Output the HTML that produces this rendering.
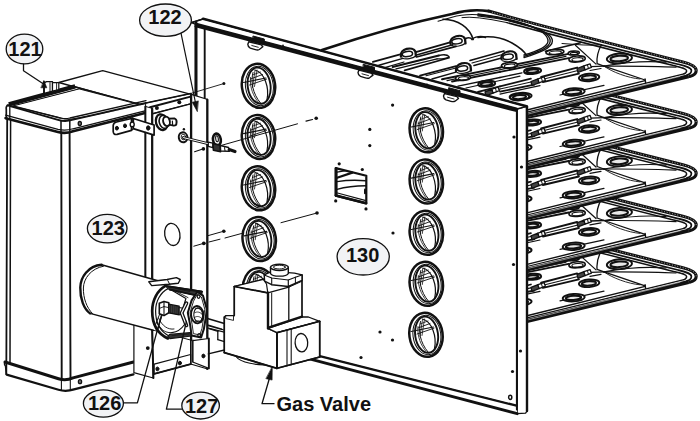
<!DOCTYPE html>
<html><head><meta charset="utf-8"><title>Parts diagram</title>
<style>
html,body{margin:0;padding:0;background:#fff;}
body{width:700px;height:421px;overflow:hidden;font-family:"Liberation Sans",sans-serif;}
svg{display:block;}
text{font-family:"Liberation Sans",sans-serif;font-weight:bold;fill:#111;}
</style></head><body>
<svg width="700" height="421" viewBox="0 0 700 421" stroke-linecap="round" stroke-linejoin="round">
<rect width="700" height="421" fill="#fff"/>
<g transform="translate(0 205.8)"><path d="M322 50Q390 27 452 13.9Q470 8.6 488.6 11.1Q551 28.8 682.9 61.9C690 63.7 696.2 66 696.2 70.4C696.2 74 693.5 75.5 689.7 76.4L527 116.8Z" fill="#fff" stroke="none"/><path d="M688.6 76.2L527.0 115.2" stroke="#111" stroke-width="4.0" fill="none" stroke-linecap="butt"/><path d="M684.0 73.9L527.0 112.1" stroke="#111" stroke-width="1.2" fill="none" /><path d="M645.1 80.6L527.0 110.0" stroke="#111" stroke-width="1.4" fill="none" /><path d="M680.0 76.4L527.0 114.3"  stroke-width="0.5" fill="none" stroke="#fff"/><path d="M488.6 11.1Q551 28.8 682.9 61.9C690 63.7 696.2 66 696.2 70.4C696.2 74 693.5 75.5 689.7 76.4" stroke="#111" stroke-width="3.1" fill="none"/><path d="M492 12.2Q551 28.8 682.9 61.9C690 63.7 696.2 66 696.2 70.4" stroke="#fff" stroke-width="0.8" fill="none" stroke-dasharray="0.8 1.9" stroke-linecap="butt"/><path d="M497 17.2Q551 32.4 678 64.2C686 66.2 691.4 67.5 691.4 70.6C691.4 73.2 689.5 74.4 687 75.0" stroke="#111" stroke-width="1.7" fill="none" /><path d="M507 22.6Q556 36.0 673.5 65.6C681 67.5 686.6 68.4 686.6 70.8C686.6 72.8 685.5 73.4 684 73.8" stroke="#111" stroke-width="1.5" fill="none" /><path d="M601.4 44.7C598 51 596.4 57.5 597.1 63.6L604 66.1" stroke="#111" stroke-width="1.3" fill="none" /><path d="M604.0 66.1L645.1 80.0" stroke="#111" stroke-width="1.3" fill="none" /><path d="M604 66.1C630 66 655 66 676 67.2" stroke="#111" stroke-width="1.2" fill="none" /><path d="M604 66.1C625 62.2 648 60.8 666 62.2" stroke="#111" stroke-width="1.2" fill="none" /><path d="M604 66.1C612 72 628 78 640 79.0" stroke="#111" stroke-width="0.9" fill="none" /><path d="M645.1 79.0L645.6 82.6" stroke="#111" stroke-width="1.4" fill="none" /><path d="M545.4 51.3L580.6 42.7" stroke="#111" stroke-width="1.44" fill="none" /><path d="M575.4 45.3L596.0 64.1" stroke="#111" stroke-width="1.2" fill="none" /><path d="M500.0 67.6L568.6 53.9" stroke="#111" stroke-width="1.92" fill="none" /><path d="M500.0 69.8L566.0 56.4" stroke="#111" stroke-width="1.08" fill="none" /><path d="M500.0 71.9L568.6 58.1" stroke="#111" stroke-width="1.8" fill="none" /><path d="M500.0 86.4L530.9 78.7" stroke="#111" stroke-width="1.8" fill="none" /><path d="M500.0 91.6L534.3 84.7" stroke="#111" stroke-width="1.8" fill="none" /><path d="M500.0 89.0L532.0 81.8" stroke="#111" stroke-width="1.08" fill="none" /><path d="M541.1 77.0L577.1 67.6" stroke="#111" stroke-width="1.92" fill="none" /><path d="M542.9 82.1L578.9 73.6" stroke="#111" stroke-width="1.92" fill="none" /><path d="M542.0 79.6L578.0 70.6" stroke="#111" stroke-width="1.08" fill="none" /><path d="M500.0 94.1L540.0 85.6" stroke="#111" stroke-width="1.2" fill="none" /><path d="M500.0 77.5L522.0 72.8" stroke="#111" stroke-width="1.32" fill="none" /><path d="M500.0 80.5L520.0 76.2" stroke="#111" stroke-width="1.2" fill="none" /><path d="M560.0 95.0L604.0 85.4" stroke="#111" stroke-width="1.2" fill="none" /><path d="M590.9 66.6L604.0 66.1" stroke="#111" stroke-width="1.32" fill="none" /><path d="M590.0 70.5L601.0 68.5" stroke="#111" stroke-width="1.2" fill="none" /><path d="M562 43.5C577 44.5 590 46 601.4 44.7" stroke="#111" stroke-width="1.0" fill="none" /><ellipse cx="619.4" cy="58.4" rx="12.6" ry="4.9" stroke="#111" stroke-width="1.9" fill="#fff" transform="rotate(-4 619.4 58.4)" /><ellipse cx="619.2" cy="58.5" rx="8.8" ry="2.8" stroke="#111" stroke-width="2.0" fill="#e8e8e8" transform="rotate(-4 619.2 58.5)" /><ellipse cx="589.1" cy="77.5" rx="10.2" ry="3.8" stroke="#111" stroke-width="1.9" fill="#fff" transform="rotate(-4 589.1 77.5)" /><ellipse cx="588.9" cy="77.6" rx="7.1" ry="2.2" stroke="#111" stroke-width="2.0" fill="#e8e8e8" transform="rotate(-4 588.9 77.6)" /><ellipse cx="573.7" cy="91.9" rx="11.0" ry="3.7" stroke="#111" stroke-width="1.9" fill="#fff" transform="rotate(-4 573.7 91.9)" /><ellipse cx="573.5" cy="92.0" rx="7.7" ry="2.1" stroke="#111" stroke-width="2.0" fill="#e8e8e8" transform="rotate(-4 573.5 92.0)" /><ellipse cx="554.9" cy="52.1" rx="9.0" ry="2.6" stroke="#111" stroke-width="1.6" fill="#fff" transform="rotate(-4 554.9 52.1)" /><ellipse cx="555.3" cy="52.6" rx="6.1" ry="1.6" stroke="#111" stroke-width="1.1" fill="none" transform="rotate(-4 555.3 52.6)" /><ellipse cx="573.7" cy="53.0" rx="5.6" ry="1.9" stroke="#111" stroke-width="1.6" fill="#fff" transform="rotate(-4 573.7 53.0)" /><ellipse cx="574.1" cy="53.5" rx="3.8" ry="1.1" stroke="#111" stroke-width="1.1" fill="none" transform="rotate(-4 574.1 53.5)" /><ellipse cx="577.1" cy="59.0" rx="8.2" ry="3.0" stroke="#111" stroke-width="1.6" fill="#fff" transform="rotate(-4 577.1 59.0)" /><ellipse cx="577.5" cy="59.5" rx="5.6" ry="1.8" stroke="#111" stroke-width="1.1" fill="none" transform="rotate(-4 577.5 59.5)" /><ellipse cx="532.6" cy="71.0" rx="8.6" ry="3.0" stroke="#111" stroke-width="1.9" fill="#fff" transform="rotate(-4 532.6 71.0)" /><ellipse cx="532.4" cy="71.1" rx="6.0" ry="1.7" stroke="#111" stroke-width="2.0" fill="#e8e8e8" transform="rotate(-4 532.4 71.1)" /><ellipse cx="520.6" cy="96.4" rx="11.0" ry="3.5" stroke="#111" stroke-width="1.9" fill="#fff" transform="rotate(-4 520.6 96.4)" /><ellipse cx="520.4" cy="96.5" rx="7.7" ry="2.0" stroke="#111" stroke-width="2.0" fill="#e8e8e8" transform="rotate(-4 520.4 96.5)" /><path d="M577.0 68.5L584.0 65.8L585.0 69.8L578.0 72.5Z" stroke="#111" stroke-width="1.3" fill="#444" /><path d="M584.0 65.8L590.0 63.8L591.4 67.4L585.0 69.8Z" stroke="#111" stroke-width="1.3" fill="#fff" /><path d="M587.4 64.7L588.4 68.4" stroke="#111" stroke-width="1.0" fill="none" /><path d="M531.0 81.5L538.0 78.8L539.0 82.8L532.0 85.5Z" stroke="#111" stroke-width="1.3" fill="#444" /><path d="M538.0 78.8L544.0 76.8L545.4 80.4L539.0 82.8Z" stroke="#111" stroke-width="1.3" fill="#fff" /><path d="M541.4 77.7L542.4 81.4" stroke="#111" stroke-width="1.0" fill="none" /></g>
<g transform="translate(0 154.4)"><path d="M322 50Q390 27 452 13.9Q470 8.6 488.6 11.1Q551 28.8 682.9 61.9C690 63.7 696.2 66 696.2 70.4C696.2 74 693.5 75.5 689.7 76.4L527 116.8Z" fill="#fff" stroke="none"/><path d="M688.6 76.2L527.0 115.2" stroke="#111" stroke-width="4.0" fill="none" stroke-linecap="butt"/><path d="M684.0 73.9L527.0 112.1" stroke="#111" stroke-width="1.2" fill="none" /><path d="M645.1 80.6L527.0 110.0" stroke="#111" stroke-width="1.4" fill="none" /><path d="M680.0 76.4L527.0 114.3"  stroke-width="0.5" fill="none" stroke="#fff"/><path d="M488.6 11.1Q551 28.8 682.9 61.9C690 63.7 696.2 66 696.2 70.4C696.2 74 693.5 75.5 689.7 76.4" stroke="#111" stroke-width="3.1" fill="none"/><path d="M492 12.2Q551 28.8 682.9 61.9C690 63.7 696.2 66 696.2 70.4" stroke="#fff" stroke-width="0.8" fill="none" stroke-dasharray="0.8 1.9" stroke-linecap="butt"/><path d="M497 17.2Q551 32.4 678 64.2C686 66.2 691.4 67.5 691.4 70.6C691.4 73.2 689.5 74.4 687 75.0" stroke="#111" stroke-width="1.7" fill="none" /><path d="M507 22.6Q556 36.0 673.5 65.6C681 67.5 686.6 68.4 686.6 70.8C686.6 72.8 685.5 73.4 684 73.8" stroke="#111" stroke-width="1.5" fill="none" /><path d="M601.4 44.7C598 51 596.4 57.5 597.1 63.6L604 66.1" stroke="#111" stroke-width="1.3" fill="none" /><path d="M604.0 66.1L645.1 80.0" stroke="#111" stroke-width="1.3" fill="none" /><path d="M604 66.1C630 66 655 66 676 67.2" stroke="#111" stroke-width="1.2" fill="none" /><path d="M604 66.1C625 62.2 648 60.8 666 62.2" stroke="#111" stroke-width="1.2" fill="none" /><path d="M604 66.1C612 72 628 78 640 79.0" stroke="#111" stroke-width="0.9" fill="none" /><path d="M645.1 79.0L645.6 82.6" stroke="#111" stroke-width="1.4" fill="none" /><path d="M545.4 51.3L580.6 42.7" stroke="#111" stroke-width="1.44" fill="none" /><path d="M575.4 45.3L596.0 64.1" stroke="#111" stroke-width="1.2" fill="none" /><path d="M500.0 67.6L568.6 53.9" stroke="#111" stroke-width="1.92" fill="none" /><path d="M500.0 69.8L566.0 56.4" stroke="#111" stroke-width="1.08" fill="none" /><path d="M500.0 71.9L568.6 58.1" stroke="#111" stroke-width="1.8" fill="none" /><path d="M500.0 86.4L530.9 78.7" stroke="#111" stroke-width="1.8" fill="none" /><path d="M500.0 91.6L534.3 84.7" stroke="#111" stroke-width="1.8" fill="none" /><path d="M500.0 89.0L532.0 81.8" stroke="#111" stroke-width="1.08" fill="none" /><path d="M541.1 77.0L577.1 67.6" stroke="#111" stroke-width="1.92" fill="none" /><path d="M542.9 82.1L578.9 73.6" stroke="#111" stroke-width="1.92" fill="none" /><path d="M542.0 79.6L578.0 70.6" stroke="#111" stroke-width="1.08" fill="none" /><path d="M500.0 94.1L540.0 85.6" stroke="#111" stroke-width="1.2" fill="none" /><path d="M500.0 77.5L522.0 72.8" stroke="#111" stroke-width="1.32" fill="none" /><path d="M500.0 80.5L520.0 76.2" stroke="#111" stroke-width="1.2" fill="none" /><path d="M560.0 95.0L604.0 85.4" stroke="#111" stroke-width="1.2" fill="none" /><path d="M590.9 66.6L604.0 66.1" stroke="#111" stroke-width="1.32" fill="none" /><path d="M590.0 70.5L601.0 68.5" stroke="#111" stroke-width="1.2" fill="none" /><path d="M562 43.5C577 44.5 590 46 601.4 44.7" stroke="#111" stroke-width="1.0" fill="none" /><ellipse cx="619.4" cy="58.4" rx="12.6" ry="4.9" stroke="#111" stroke-width="1.9" fill="#fff" transform="rotate(-4 619.4 58.4)" /><ellipse cx="619.2" cy="58.5" rx="8.8" ry="2.8" stroke="#111" stroke-width="2.0" fill="#e8e8e8" transform="rotate(-4 619.2 58.5)" /><ellipse cx="589.1" cy="77.5" rx="10.2" ry="3.8" stroke="#111" stroke-width="1.9" fill="#fff" transform="rotate(-4 589.1 77.5)" /><ellipse cx="588.9" cy="77.6" rx="7.1" ry="2.2" stroke="#111" stroke-width="2.0" fill="#e8e8e8" transform="rotate(-4 588.9 77.6)" /><ellipse cx="573.7" cy="91.9" rx="11.0" ry="3.7" stroke="#111" stroke-width="1.9" fill="#fff" transform="rotate(-4 573.7 91.9)" /><ellipse cx="573.5" cy="92.0" rx="7.7" ry="2.1" stroke="#111" stroke-width="2.0" fill="#e8e8e8" transform="rotate(-4 573.5 92.0)" /><ellipse cx="554.9" cy="52.1" rx="9.0" ry="2.6" stroke="#111" stroke-width="1.6" fill="#fff" transform="rotate(-4 554.9 52.1)" /><ellipse cx="555.3" cy="52.6" rx="6.1" ry="1.6" stroke="#111" stroke-width="1.1" fill="none" transform="rotate(-4 555.3 52.6)" /><ellipse cx="573.7" cy="53.0" rx="5.6" ry="1.9" stroke="#111" stroke-width="1.6" fill="#fff" transform="rotate(-4 573.7 53.0)" /><ellipse cx="574.1" cy="53.5" rx="3.8" ry="1.1" stroke="#111" stroke-width="1.1" fill="none" transform="rotate(-4 574.1 53.5)" /><ellipse cx="577.1" cy="59.0" rx="8.2" ry="3.0" stroke="#111" stroke-width="1.6" fill="#fff" transform="rotate(-4 577.1 59.0)" /><ellipse cx="577.5" cy="59.5" rx="5.6" ry="1.8" stroke="#111" stroke-width="1.1" fill="none" transform="rotate(-4 577.5 59.5)" /><ellipse cx="532.6" cy="71.0" rx="8.6" ry="3.0" stroke="#111" stroke-width="1.9" fill="#fff" transform="rotate(-4 532.6 71.0)" /><ellipse cx="532.4" cy="71.1" rx="6.0" ry="1.7" stroke="#111" stroke-width="2.0" fill="#e8e8e8" transform="rotate(-4 532.4 71.1)" /><ellipse cx="520.6" cy="96.4" rx="11.0" ry="3.5" stroke="#111" stroke-width="1.9" fill="#fff" transform="rotate(-4 520.6 96.4)" /><ellipse cx="520.4" cy="96.5" rx="7.7" ry="2.0" stroke="#111" stroke-width="2.0" fill="#e8e8e8" transform="rotate(-4 520.4 96.5)" /><path d="M577.0 68.5L584.0 65.8L585.0 69.8L578.0 72.5Z" stroke="#111" stroke-width="1.3" fill="#444" /><path d="M584.0 65.8L590.0 63.8L591.4 67.4L585.0 69.8Z" stroke="#111" stroke-width="1.3" fill="#fff" /><path d="M587.4 64.7L588.4 68.4" stroke="#111" stroke-width="1.0" fill="none" /><path d="M531.0 81.5L538.0 78.8L539.0 82.8L532.0 85.5Z" stroke="#111" stroke-width="1.3" fill="#444" /><path d="M538.0 78.8L544.0 76.8L545.4 80.4L539.0 82.8Z" stroke="#111" stroke-width="1.3" fill="#fff" /><path d="M541.4 77.7L542.4 81.4" stroke="#111" stroke-width="1.0" fill="none" /></g>
<g transform="translate(0 102.9)"><path d="M322 50Q390 27 452 13.9Q470 8.6 488.6 11.1Q551 28.8 682.9 61.9C690 63.7 696.2 66 696.2 70.4C696.2 74 693.5 75.5 689.7 76.4L527 116.8Z" fill="#fff" stroke="none"/><path d="M688.6 76.2L527.0 115.2" stroke="#111" stroke-width="4.0" fill="none" stroke-linecap="butt"/><path d="M684.0 73.9L527.0 112.1" stroke="#111" stroke-width="1.2" fill="none" /><path d="M645.1 80.6L527.0 110.0" stroke="#111" stroke-width="1.4" fill="none" /><path d="M680.0 76.4L527.0 114.3"  stroke-width="0.5" fill="none" stroke="#fff"/><path d="M488.6 11.1Q551 28.8 682.9 61.9C690 63.7 696.2 66 696.2 70.4C696.2 74 693.5 75.5 689.7 76.4" stroke="#111" stroke-width="3.1" fill="none"/><path d="M492 12.2Q551 28.8 682.9 61.9C690 63.7 696.2 66 696.2 70.4" stroke="#fff" stroke-width="0.8" fill="none" stroke-dasharray="0.8 1.9" stroke-linecap="butt"/><path d="M497 17.2Q551 32.4 678 64.2C686 66.2 691.4 67.5 691.4 70.6C691.4 73.2 689.5 74.4 687 75.0" stroke="#111" stroke-width="1.7" fill="none" /><path d="M507 22.6Q556 36.0 673.5 65.6C681 67.5 686.6 68.4 686.6 70.8C686.6 72.8 685.5 73.4 684 73.8" stroke="#111" stroke-width="1.5" fill="none" /><path d="M601.4 44.7C598 51 596.4 57.5 597.1 63.6L604 66.1" stroke="#111" stroke-width="1.3" fill="none" /><path d="M604.0 66.1L645.1 80.0" stroke="#111" stroke-width="1.3" fill="none" /><path d="M604 66.1C630 66 655 66 676 67.2" stroke="#111" stroke-width="1.2" fill="none" /><path d="M604 66.1C625 62.2 648 60.8 666 62.2" stroke="#111" stroke-width="1.2" fill="none" /><path d="M604 66.1C612 72 628 78 640 79.0" stroke="#111" stroke-width="0.9" fill="none" /><path d="M645.1 79.0L645.6 82.6" stroke="#111" stroke-width="1.4" fill="none" /><path d="M545.4 51.3L580.6 42.7" stroke="#111" stroke-width="1.44" fill="none" /><path d="M575.4 45.3L596.0 64.1" stroke="#111" stroke-width="1.2" fill="none" /><path d="M500.0 67.6L568.6 53.9" stroke="#111" stroke-width="1.92" fill="none" /><path d="M500.0 69.8L566.0 56.4" stroke="#111" stroke-width="1.08" fill="none" /><path d="M500.0 71.9L568.6 58.1" stroke="#111" stroke-width="1.8" fill="none" /><path d="M500.0 86.4L530.9 78.7" stroke="#111" stroke-width="1.8" fill="none" /><path d="M500.0 91.6L534.3 84.7" stroke="#111" stroke-width="1.8" fill="none" /><path d="M500.0 89.0L532.0 81.8" stroke="#111" stroke-width="1.08" fill="none" /><path d="M541.1 77.0L577.1 67.6" stroke="#111" stroke-width="1.92" fill="none" /><path d="M542.9 82.1L578.9 73.6" stroke="#111" stroke-width="1.92" fill="none" /><path d="M542.0 79.6L578.0 70.6" stroke="#111" stroke-width="1.08" fill="none" /><path d="M500.0 94.1L540.0 85.6" stroke="#111" stroke-width="1.2" fill="none" /><path d="M500.0 77.5L522.0 72.8" stroke="#111" stroke-width="1.32" fill="none" /><path d="M500.0 80.5L520.0 76.2" stroke="#111" stroke-width="1.2" fill="none" /><path d="M560.0 95.0L604.0 85.4" stroke="#111" stroke-width="1.2" fill="none" /><path d="M590.9 66.6L604.0 66.1" stroke="#111" stroke-width="1.32" fill="none" /><path d="M590.0 70.5L601.0 68.5" stroke="#111" stroke-width="1.2" fill="none" /><path d="M562 43.5C577 44.5 590 46 601.4 44.7" stroke="#111" stroke-width="1.0" fill="none" /><ellipse cx="619.4" cy="58.4" rx="12.6" ry="4.9" stroke="#111" stroke-width="1.9" fill="#fff" transform="rotate(-4 619.4 58.4)" /><ellipse cx="619.2" cy="58.5" rx="8.8" ry="2.8" stroke="#111" stroke-width="2.0" fill="#e8e8e8" transform="rotate(-4 619.2 58.5)" /><ellipse cx="589.1" cy="77.5" rx="10.2" ry="3.8" stroke="#111" stroke-width="1.9" fill="#fff" transform="rotate(-4 589.1 77.5)" /><ellipse cx="588.9" cy="77.6" rx="7.1" ry="2.2" stroke="#111" stroke-width="2.0" fill="#e8e8e8" transform="rotate(-4 588.9 77.6)" /><ellipse cx="573.7" cy="91.9" rx="11.0" ry="3.7" stroke="#111" stroke-width="1.9" fill="#fff" transform="rotate(-4 573.7 91.9)" /><ellipse cx="573.5" cy="92.0" rx="7.7" ry="2.1" stroke="#111" stroke-width="2.0" fill="#e8e8e8" transform="rotate(-4 573.5 92.0)" /><ellipse cx="554.9" cy="52.1" rx="9.0" ry="2.6" stroke="#111" stroke-width="1.6" fill="#fff" transform="rotate(-4 554.9 52.1)" /><ellipse cx="555.3" cy="52.6" rx="6.1" ry="1.6" stroke="#111" stroke-width="1.1" fill="none" transform="rotate(-4 555.3 52.6)" /><ellipse cx="573.7" cy="53.0" rx="5.6" ry="1.9" stroke="#111" stroke-width="1.6" fill="#fff" transform="rotate(-4 573.7 53.0)" /><ellipse cx="574.1" cy="53.5" rx="3.8" ry="1.1" stroke="#111" stroke-width="1.1" fill="none" transform="rotate(-4 574.1 53.5)" /><ellipse cx="577.1" cy="59.0" rx="8.2" ry="3.0" stroke="#111" stroke-width="1.6" fill="#fff" transform="rotate(-4 577.1 59.0)" /><ellipse cx="577.5" cy="59.5" rx="5.6" ry="1.8" stroke="#111" stroke-width="1.1" fill="none" transform="rotate(-4 577.5 59.5)" /><ellipse cx="532.6" cy="71.0" rx="8.6" ry="3.0" stroke="#111" stroke-width="1.9" fill="#fff" transform="rotate(-4 532.6 71.0)" /><ellipse cx="532.4" cy="71.1" rx="6.0" ry="1.7" stroke="#111" stroke-width="2.0" fill="#e8e8e8" transform="rotate(-4 532.4 71.1)" /><ellipse cx="520.6" cy="96.4" rx="11.0" ry="3.5" stroke="#111" stroke-width="1.9" fill="#fff" transform="rotate(-4 520.6 96.4)" /><ellipse cx="520.4" cy="96.5" rx="7.7" ry="2.0" stroke="#111" stroke-width="2.0" fill="#e8e8e8" transform="rotate(-4 520.4 96.5)" /><path d="M577.0 68.5L584.0 65.8L585.0 69.8L578.0 72.5Z" stroke="#111" stroke-width="1.3" fill="#444" /><path d="M584.0 65.8L590.0 63.8L591.4 67.4L585.0 69.8Z" stroke="#111" stroke-width="1.3" fill="#fff" /><path d="M587.4 64.7L588.4 68.4" stroke="#111" stroke-width="1.0" fill="none" /><path d="M531.0 81.5L538.0 78.8L539.0 82.8L532.0 85.5Z" stroke="#111" stroke-width="1.3" fill="#444" /><path d="M538.0 78.8L544.0 76.8L545.4 80.4L539.0 82.8Z" stroke="#111" stroke-width="1.3" fill="#fff" /><path d="M541.4 77.7L542.4 81.4" stroke="#111" stroke-width="1.0" fill="none" /></g>
<g transform="translate(0 51.5)"><path d="M322 50Q390 27 452 13.9Q470 8.6 488.6 11.1Q551 28.8 682.9 61.9C690 63.7 696.2 66 696.2 70.4C696.2 74 693.5 75.5 689.7 76.4L527 116.8Z" fill="#fff" stroke="none"/><path d="M688.6 76.2L527.0 115.2" stroke="#111" stroke-width="4.0" fill="none" stroke-linecap="butt"/><path d="M684.0 73.9L527.0 112.1" stroke="#111" stroke-width="1.2" fill="none" /><path d="M645.1 80.6L527.0 110.0" stroke="#111" stroke-width="1.4" fill="none" /><path d="M680.0 76.4L527.0 114.3"  stroke-width="0.5" fill="none" stroke="#fff"/><path d="M488.6 11.1Q551 28.8 682.9 61.9C690 63.7 696.2 66 696.2 70.4C696.2 74 693.5 75.5 689.7 76.4" stroke="#111" stroke-width="3.1" fill="none"/><path d="M492 12.2Q551 28.8 682.9 61.9C690 63.7 696.2 66 696.2 70.4" stroke="#fff" stroke-width="0.8" fill="none" stroke-dasharray="0.8 1.9" stroke-linecap="butt"/><path d="M497 17.2Q551 32.4 678 64.2C686 66.2 691.4 67.5 691.4 70.6C691.4 73.2 689.5 74.4 687 75.0" stroke="#111" stroke-width="1.7" fill="none" /><path d="M507 22.6Q556 36.0 673.5 65.6C681 67.5 686.6 68.4 686.6 70.8C686.6 72.8 685.5 73.4 684 73.8" stroke="#111" stroke-width="1.5" fill="none" /><path d="M601.4 44.7C598 51 596.4 57.5 597.1 63.6L604 66.1" stroke="#111" stroke-width="1.3" fill="none" /><path d="M604.0 66.1L645.1 80.0" stroke="#111" stroke-width="1.3" fill="none" /><path d="M604 66.1C630 66 655 66 676 67.2" stroke="#111" stroke-width="1.2" fill="none" /><path d="M604 66.1C625 62.2 648 60.8 666 62.2" stroke="#111" stroke-width="1.2" fill="none" /><path d="M604 66.1C612 72 628 78 640 79.0" stroke="#111" stroke-width="0.9" fill="none" /><path d="M645.1 79.0L645.6 82.6" stroke="#111" stroke-width="1.4" fill="none" /><path d="M545.4 51.3L580.6 42.7" stroke="#111" stroke-width="1.44" fill="none" /><path d="M575.4 45.3L596.0 64.1" stroke="#111" stroke-width="1.2" fill="none" /><path d="M500.0 67.6L568.6 53.9" stroke="#111" stroke-width="1.92" fill="none" /><path d="M500.0 69.8L566.0 56.4" stroke="#111" stroke-width="1.08" fill="none" /><path d="M500.0 71.9L568.6 58.1" stroke="#111" stroke-width="1.8" fill="none" /><path d="M500.0 86.4L530.9 78.7" stroke="#111" stroke-width="1.8" fill="none" /><path d="M500.0 91.6L534.3 84.7" stroke="#111" stroke-width="1.8" fill="none" /><path d="M500.0 89.0L532.0 81.8" stroke="#111" stroke-width="1.08" fill="none" /><path d="M541.1 77.0L577.1 67.6" stroke="#111" stroke-width="1.92" fill="none" /><path d="M542.9 82.1L578.9 73.6" stroke="#111" stroke-width="1.92" fill="none" /><path d="M542.0 79.6L578.0 70.6" stroke="#111" stroke-width="1.08" fill="none" /><path d="M500.0 94.1L540.0 85.6" stroke="#111" stroke-width="1.2" fill="none" /><path d="M500.0 77.5L522.0 72.8" stroke="#111" stroke-width="1.32" fill="none" /><path d="M500.0 80.5L520.0 76.2" stroke="#111" stroke-width="1.2" fill="none" /><path d="M560.0 95.0L604.0 85.4" stroke="#111" stroke-width="1.2" fill="none" /><path d="M590.9 66.6L604.0 66.1" stroke="#111" stroke-width="1.32" fill="none" /><path d="M590.0 70.5L601.0 68.5" stroke="#111" stroke-width="1.2" fill="none" /><path d="M562 43.5C577 44.5 590 46 601.4 44.7" stroke="#111" stroke-width="1.0" fill="none" /><ellipse cx="619.4" cy="58.4" rx="12.6" ry="4.9" stroke="#111" stroke-width="1.9" fill="#fff" transform="rotate(-4 619.4 58.4)" /><ellipse cx="619.2" cy="58.5" rx="8.8" ry="2.8" stroke="#111" stroke-width="2.0" fill="#e8e8e8" transform="rotate(-4 619.2 58.5)" /><ellipse cx="589.1" cy="77.5" rx="10.2" ry="3.8" stroke="#111" stroke-width="1.9" fill="#fff" transform="rotate(-4 589.1 77.5)" /><ellipse cx="588.9" cy="77.6" rx="7.1" ry="2.2" stroke="#111" stroke-width="2.0" fill="#e8e8e8" transform="rotate(-4 588.9 77.6)" /><ellipse cx="573.7" cy="91.9" rx="11.0" ry="3.7" stroke="#111" stroke-width="1.9" fill="#fff" transform="rotate(-4 573.7 91.9)" /><ellipse cx="573.5" cy="92.0" rx="7.7" ry="2.1" stroke="#111" stroke-width="2.0" fill="#e8e8e8" transform="rotate(-4 573.5 92.0)" /><ellipse cx="554.9" cy="52.1" rx="9.0" ry="2.6" stroke="#111" stroke-width="1.6" fill="#fff" transform="rotate(-4 554.9 52.1)" /><ellipse cx="555.3" cy="52.6" rx="6.1" ry="1.6" stroke="#111" stroke-width="1.1" fill="none" transform="rotate(-4 555.3 52.6)" /><ellipse cx="573.7" cy="53.0" rx="5.6" ry="1.9" stroke="#111" stroke-width="1.6" fill="#fff" transform="rotate(-4 573.7 53.0)" /><ellipse cx="574.1" cy="53.5" rx="3.8" ry="1.1" stroke="#111" stroke-width="1.1" fill="none" transform="rotate(-4 574.1 53.5)" /><ellipse cx="577.1" cy="59.0" rx="8.2" ry="3.0" stroke="#111" stroke-width="1.6" fill="#fff" transform="rotate(-4 577.1 59.0)" /><ellipse cx="577.5" cy="59.5" rx="5.6" ry="1.8" stroke="#111" stroke-width="1.1" fill="none" transform="rotate(-4 577.5 59.5)" /><ellipse cx="532.6" cy="71.0" rx="8.6" ry="3.0" stroke="#111" stroke-width="1.9" fill="#fff" transform="rotate(-4 532.6 71.0)" /><ellipse cx="532.4" cy="71.1" rx="6.0" ry="1.7" stroke="#111" stroke-width="2.0" fill="#e8e8e8" transform="rotate(-4 532.4 71.1)" /><ellipse cx="520.6" cy="96.4" rx="11.0" ry="3.5" stroke="#111" stroke-width="1.9" fill="#fff" transform="rotate(-4 520.6 96.4)" /><ellipse cx="520.4" cy="96.5" rx="7.7" ry="2.0" stroke="#111" stroke-width="2.0" fill="#e8e8e8" transform="rotate(-4 520.4 96.5)" /><path d="M577.0 68.5L584.0 65.8L585.0 69.8L578.0 72.5Z" stroke="#111" stroke-width="1.3" fill="#444" /><path d="M584.0 65.8L590.0 63.8L591.4 67.4L585.0 69.8Z" stroke="#111" stroke-width="1.3" fill="#fff" /><path d="M587.4 64.7L588.4 68.4" stroke="#111" stroke-width="1.0" fill="none" /><path d="M531.0 81.5L538.0 78.8L539.0 82.8L532.0 85.5Z" stroke="#111" stroke-width="1.3" fill="#444" /><path d="M538.0 78.8L544.0 76.8L545.4 80.4L539.0 82.8Z" stroke="#111" stroke-width="1.3" fill="#fff" /><path d="M541.4 77.7L542.4 81.4" stroke="#111" stroke-width="1.0" fill="none" /></g>
<g transform="translate(0 0.0)"><path d="M322 50Q390 27 452 13.9Q470 8.6 488.6 11.1Q551 28.8 682.9 61.9C690 63.7 696.2 66 696.2 70.4C696.2 74 693.5 75.5 689.7 76.4L527 116.8Z" fill="#fff" stroke="none"/><path d="M688.6 76.2L527.0 115.2" stroke="#111" stroke-width="4.0" fill="none" stroke-linecap="butt"/><path d="M684.0 73.9L527.0 112.1" stroke="#111" stroke-width="1.2" fill="none" /><path d="M645.1 80.6L527.0 110.0" stroke="#111" stroke-width="1.4" fill="none" /><path d="M680.0 76.4L527.0 114.3"  stroke-width="0.5" fill="none" stroke="#fff"/><path d="M488.6 11.1Q551 28.8 682.9 61.9C690 63.7 696.2 66 696.2 70.4C696.2 74 693.5 75.5 689.7 76.4" stroke="#111" stroke-width="3.1" fill="none"/><path d="M492 12.2Q551 28.8 682.9 61.9C690 63.7 696.2 66 696.2 70.4" stroke="#fff" stroke-width="0.8" fill="none" stroke-dasharray="0.8 1.9" stroke-linecap="butt"/><path d="M497 17.2Q551 32.4 678 64.2C686 66.2 691.4 67.5 691.4 70.6C691.4 73.2 689.5 74.4 687 75.0" stroke="#111" stroke-width="1.7" fill="none" /><path d="M507 22.6Q556 36.0 673.5 65.6C681 67.5 686.6 68.4 686.6 70.8C686.6 72.8 685.5 73.4 684 73.8" stroke="#111" stroke-width="1.5" fill="none" /><path d="M601.4 44.7C598 51 596.4 57.5 597.1 63.6L604 66.1" stroke="#111" stroke-width="1.3" fill="none" /><path d="M604.0 66.1L645.1 80.0" stroke="#111" stroke-width="1.3" fill="none" /><path d="M604 66.1C630 66 655 66 676 67.2" stroke="#111" stroke-width="1.2" fill="none" /><path d="M604 66.1C625 62.2 648 60.8 666 62.2" stroke="#111" stroke-width="1.2" fill="none" /><path d="M604 66.1C612 72 628 78 640 79.0" stroke="#111" stroke-width="0.9" fill="none" /><path d="M645.1 79.0L645.6 82.6" stroke="#111" stroke-width="1.4" fill="none" /><path d="M545.4 51.3L580.6 42.7" stroke="#111" stroke-width="1.44" fill="none" /><path d="M575.4 45.3L596.0 64.1" stroke="#111" stroke-width="1.2" fill="none" /><path d="M500.0 67.6L568.6 53.9" stroke="#111" stroke-width="1.92" fill="none" /><path d="M500.0 69.8L566.0 56.4" stroke="#111" stroke-width="1.08" fill="none" /><path d="M500.0 71.9L568.6 58.1" stroke="#111" stroke-width="1.8" fill="none" /><path d="M500.0 86.4L530.9 78.7" stroke="#111" stroke-width="1.8" fill="none" /><path d="M500.0 91.6L534.3 84.7" stroke="#111" stroke-width="1.8" fill="none" /><path d="M500.0 89.0L532.0 81.8" stroke="#111" stroke-width="1.08" fill="none" /><path d="M541.1 77.0L577.1 67.6" stroke="#111" stroke-width="1.92" fill="none" /><path d="M542.9 82.1L578.9 73.6" stroke="#111" stroke-width="1.92" fill="none" /><path d="M542.0 79.6L578.0 70.6" stroke="#111" stroke-width="1.08" fill="none" /><path d="M500.0 94.1L540.0 85.6" stroke="#111" stroke-width="1.2" fill="none" /><path d="M500.0 77.5L522.0 72.8" stroke="#111" stroke-width="1.32" fill="none" /><path d="M500.0 80.5L520.0 76.2" stroke="#111" stroke-width="1.2" fill="none" /><path d="M560.0 95.0L604.0 85.4" stroke="#111" stroke-width="1.2" fill="none" /><path d="M590.9 66.6L604.0 66.1" stroke="#111" stroke-width="1.32" fill="none" /><path d="M590.0 70.5L601.0 68.5" stroke="#111" stroke-width="1.2" fill="none" /><path d="M562 43.5C577 44.5 590 46 601.4 44.7" stroke="#111" stroke-width="1.0" fill="none" /><ellipse cx="619.4" cy="58.4" rx="12.6" ry="4.9" stroke="#111" stroke-width="1.9" fill="#fff" transform="rotate(-4 619.4 58.4)" /><ellipse cx="619.2" cy="58.5" rx="8.8" ry="2.8" stroke="#111" stroke-width="2.0" fill="#e8e8e8" transform="rotate(-4 619.2 58.5)" /><ellipse cx="589.1" cy="77.5" rx="10.2" ry="3.8" stroke="#111" stroke-width="1.9" fill="#fff" transform="rotate(-4 589.1 77.5)" /><ellipse cx="588.9" cy="77.6" rx="7.1" ry="2.2" stroke="#111" stroke-width="2.0" fill="#e8e8e8" transform="rotate(-4 588.9 77.6)" /><ellipse cx="573.7" cy="91.9" rx="11.0" ry="3.7" stroke="#111" stroke-width="1.9" fill="#fff" transform="rotate(-4 573.7 91.9)" /><ellipse cx="573.5" cy="92.0" rx="7.7" ry="2.1" stroke="#111" stroke-width="2.0" fill="#e8e8e8" transform="rotate(-4 573.5 92.0)" /><ellipse cx="554.9" cy="52.1" rx="9.0" ry="2.6" stroke="#111" stroke-width="1.6" fill="#fff" transform="rotate(-4 554.9 52.1)" /><ellipse cx="555.3" cy="52.6" rx="6.1" ry="1.6" stroke="#111" stroke-width="1.1" fill="none" transform="rotate(-4 555.3 52.6)" /><ellipse cx="573.7" cy="53.0" rx="5.6" ry="1.9" stroke="#111" stroke-width="1.6" fill="#fff" transform="rotate(-4 573.7 53.0)" /><ellipse cx="574.1" cy="53.5" rx="3.8" ry="1.1" stroke="#111" stroke-width="1.1" fill="none" transform="rotate(-4 574.1 53.5)" /><ellipse cx="577.1" cy="59.0" rx="8.2" ry="3.0" stroke="#111" stroke-width="1.6" fill="#fff" transform="rotate(-4 577.1 59.0)" /><ellipse cx="577.5" cy="59.5" rx="5.6" ry="1.8" stroke="#111" stroke-width="1.1" fill="none" transform="rotate(-4 577.5 59.5)" /><ellipse cx="532.6" cy="71.0" rx="8.6" ry="3.0" stroke="#111" stroke-width="1.9" fill="#fff" transform="rotate(-4 532.6 71.0)" /><ellipse cx="532.4" cy="71.1" rx="6.0" ry="1.7" stroke="#111" stroke-width="2.0" fill="#e8e8e8" transform="rotate(-4 532.4 71.1)" /><ellipse cx="520.6" cy="96.4" rx="11.0" ry="3.5" stroke="#111" stroke-width="1.9" fill="#fff" transform="rotate(-4 520.6 96.4)" /><ellipse cx="520.4" cy="96.5" rx="7.7" ry="2.0" stroke="#111" stroke-width="2.0" fill="#e8e8e8" transform="rotate(-4 520.4 96.5)" /><path d="M577.0 68.5L584.0 65.8L585.0 69.8L578.0 72.5Z" stroke="#111" stroke-width="1.3" fill="#444" /><path d="M584.0 65.8L590.0 63.8L591.4 67.4L585.0 69.8Z" stroke="#111" stroke-width="1.3" fill="#fff" /><path d="M587.4 64.7L588.4 68.4" stroke="#111" stroke-width="1.0" fill="none" /><path d="M531.0 81.5L538.0 78.8L539.0 82.8L532.0 85.5Z" stroke="#111" stroke-width="1.3" fill="#444" /><path d="M538.0 78.8L544.0 76.8L545.4 80.4L539.0 82.8Z" stroke="#111" stroke-width="1.3" fill="#fff" /><path d="M541.4 77.7L542.4 81.4" stroke="#111" stroke-width="1.0" fill="none" /><path d="M322 50Q390 27 452 13.9Q470 8.6 488.6 11.1" stroke="#111" stroke-width="2.6" fill="none" /><path d="M438 21.2L452 17.2Q470 11.8 497 17.2" stroke="#111" stroke-width="1.1" fill="none" /><path d="M462 17.6Q474 15.6 507 22.6" stroke="#111" stroke-width="1.0" fill="none" /><path d="M478 14.0C510 18.0 548.0 28.0 548.0 41C548.0 47.0 538 51.0 524 55.0" stroke="#111" stroke-width="1.35" fill="none" /><path d="M478 14.9C510 18.7 550.2 28.4 550.2 41C550.2 47.7 538 52.1 524 56.3" stroke="#111" stroke-width="1.35" fill="none" /><path d="M478 15.8C510 19.3 552.4 28.9 552.4 41C552.4 48.3 538 53.2 524 57.6" stroke="#111" stroke-width="1.35" fill="none" /><path d="M443 19.2C458 19.6 469.5 27 473.2 39.4" stroke="#111" stroke-width="1.6" fill="none" /><path d="M478 37.6C490 35.6 503 38 512 43C519 47 524 51 526.3 55" stroke="#111" stroke-width="1.5" fill="none" /><path d="M372.9 61.9L401.1 54.1" stroke="#111" stroke-width="1.83" fill="none" /><path d="M378.9 65.3L402.9 58.4" stroke="#111" stroke-width="1.46" fill="none" /><path d="M385.7 67.3L404.0 62.0" stroke="#111" stroke-width="1.22" fill="none" /><path d="M414.9 52.4L450.9 42.1" stroke="#111" stroke-width="1.95" fill="none" /><path d="M416.6 55.0L452.6 44.7" stroke="#111" stroke-width="1.46" fill="none" /><path d="M416.6 57.0L456.0 46.4" stroke="#111" stroke-width="1.71" fill="none" /><path d="M392.6 67.0L438.9 55.5" stroke="#111" stroke-width="1.83" fill="none" /><path d="M396.0 68.9L437.1 58.9" stroke="#111" stroke-width="1.34" fill="none" /><path d="M404.6 70.4L449.1 57.8" stroke="#111" stroke-width="1.71" fill="none" /><path d="M420.0 75.6L456.0 66.1" stroke="#111" stroke-width="1.71" fill="none" /><path d="M432.0 79.0L456.0 72.1" stroke="#111" stroke-width="1.46" fill="none" /><path d="M426.0 75.8L455.0 68.3" stroke="#111" stroke-width="1.1" fill="none" /><path d="M442.0 79.2L500.0 67.6" stroke="#111" stroke-width="1.95" fill="none" /><path d="M447.0 80.6L500.0 69.8" stroke="#111" stroke-width="1.1" fill="none" /><path d="M452.0 81.5L500.0 71.9" stroke="#111" stroke-width="1.83" fill="none" /><path d="M478.0 91.9L500.0 86.4" stroke="#111" stroke-width="1.83" fill="none" /><path d="M486.0 92.5L500.0 89.0" stroke="#111" stroke-width="1.1" fill="none" /><path d="M458.0 86.2L500.0 77.5" stroke="#111" stroke-width="1.34" fill="none" /><path d="M466.0 88.0L500.0 80.5" stroke="#111" stroke-width="1.22" fill="none" /><path d="M470.0 60.5L504.0 51.0" stroke="#111" stroke-width="1.71" fill="none" /><path d="M472.0 63.0L506.0 53.5" stroke="#111" stroke-width="1.22" fill="none" /><path d="M474.0 65.5L508.0 56.2" stroke="#111" stroke-width="1.59" fill="none" /><path d="M438.9 55.5C444 54.2 448 55.2 449.1 56.7C447 58.4 442 59.0 437.1 58.9" stroke="#111" stroke-width="1.3" fill="none" /><path d="M400.9 56.5C399.4 48.5 412.9 46.0 415.4 51.5L415.9 56.0" stroke="#111" stroke-width="2.3" fill="#fff" /><ellipse cx="407.4" cy="54.0" rx="5.2" ry="2.6" stroke="#111" stroke-width="1.5" fill="none" transform="rotate(-8 407.4 54.0)" /><path d="M401.9 58.0C405.9 60.0 412.9 58.5 415.9 56.0" stroke="#111" stroke-width="1.2" fill="none" /><path d="M463 41.5C464 37.6 470 36.6 472 39.4" stroke="#111" stroke-width="1.6" fill="none" /><path d="M472 39.6C474 36.4 482 35.6 485.5 37.6" stroke="#111" stroke-width="1.4" fill="none" /><path d="M450.5 43.8C449.0 35.8 462.5 33.3 465.0 38.8L465.5 43.3" stroke="#111" stroke-width="2.3" fill="#fff" /><ellipse cx="457.0" cy="41.3" rx="5.2" ry="2.6" stroke="#111" stroke-width="1.5" fill="none" transform="rotate(-8 457.0 41.3)" /><path d="M451.5 45.3C455.5 47.3 462.5 45.8 465.5 43.3" stroke="#111" stroke-width="1.2" fill="none" /><path d="M456.0 71.0C454.5 63.0 468.0 60.5 470.5 66.0L471.0 70.5" stroke="#111" stroke-width="2.3" fill="#fff" /><ellipse cx="462.5" cy="68.5" rx="5.2" ry="2.6" stroke="#111" stroke-width="1.5" fill="none" transform="rotate(-8 462.5 68.5)" /><path d="M457.0 72.5C461.0 74.5 468.0 73.0 471.0 70.5" stroke="#111" stroke-width="1.2" fill="none" /><path d="M501.6 59.3C500.1 51.3 513.6 48.8 516.1 54.3L516.6 58.8" stroke="#111" stroke-width="2.3" fill="#fff" /><ellipse cx="508.1" cy="56.8" rx="5.2" ry="2.6" stroke="#111" stroke-width="1.5" fill="none" transform="rotate(-8 508.1 56.8)" /><path d="M502.6 60.8C506.6 62.8 513.6 61.3 516.6 58.8" stroke="#111" stroke-width="1.2" fill="none" /><ellipse cx="509.4" cy="65.3" rx="8.0" ry="2.8" stroke="#111" stroke-width="1.6" fill="#fff" transform="rotate(-4 509.4 65.3)" /><ellipse cx="509.8" cy="65.8" rx="5.4" ry="1.7" stroke="#111" stroke-width="1.1" fill="none" transform="rotate(-4 509.8 65.8)" /><ellipse cx="486.7" cy="83.8" rx="8.5" ry="3.0" stroke="#111" stroke-width="1.9" fill="#fff" transform="rotate(-4 486.7 83.8)" /><ellipse cx="486.5" cy="83.9" rx="5.9" ry="1.7" stroke="#111" stroke-width="2.0" fill="#e8e8e8" transform="rotate(-4 486.5 83.9)" /><ellipse cx="463.0" cy="77.8" rx="7.5" ry="2.6" stroke="#111" stroke-width="1.6" fill="#fff" transform="rotate(-4 463.0 77.8)" /><ellipse cx="463.4" cy="78.3" rx="5.1" ry="1.6" stroke="#111" stroke-width="1.1" fill="none" transform="rotate(-4 463.4 78.3)" /><ellipse cx="519.7" cy="97.0" rx="9.5" ry="3.4" stroke="#111" stroke-width="1.9" fill="#fff" transform="rotate(-4 519.7 97.0)" /><ellipse cx="519.5" cy="97.1" rx="6.6" ry="2.0" stroke="#111" stroke-width="2.0" fill="#e8e8e8" transform="rotate(-4 519.5 97.1)" /><path d="M485.0 91.8L492.0 89.1L493.0 93.1L486.0 95.8Z" stroke="#111" stroke-width="1.3" fill="#444" /><path d="M492.0 89.1L498.0 87.1L499.4 90.7L493.0 93.1Z" stroke="#111" stroke-width="1.3" fill="#fff" /><path d="M495.4 88.0L496.4 91.7" stroke="#111" stroke-width="1.0" fill="none" /></g>
<path d="M517.0 109.0L526.5 106.4L527.0 411.0L525.6 413.2L517.2 413.6Z" stroke="#111" stroke-width="1.3" fill="#fff" />
<path d="M191.5 22.6L203.1 18.9L526.5 106.4L517.0 109.0L194.6 23.8Z" stroke="#111" stroke-width="1.3" fill="#fff" />
<path d="M195.5 24.0L517.0 109.0L516.9 405.8L195.5 324.9Z" stroke="#111" stroke-width="1.2" fill="#fff" />
<path d="M195.0 24.8L517.0 109.9" stroke="#111" stroke-width="4.6" fill="none" stroke-linecap="butt"/>
<path d="M203.1 18.7L526.5 106.2" stroke="#111" stroke-width="2.5" fill="none" />
<path d="M191.8 22.6L203.1 18.9" stroke="#111" stroke-width="1.6" fill="none" />
<path d="M196.0 23.0L196.0 330.0" stroke="#111" stroke-width="3.0" fill="none" />
<path d="M204.7 27.0L204.7 98.5" stroke="#111" stroke-width="1.9" fill="none" />
<path d="M300.0 351.2L516.5 405.7L517.3 413.7L300.0 356.4Z" stroke="#111" stroke-width="0.01" fill="#fff" />
<path d="M300.0 351.2L516.5 405.7" stroke="#111" stroke-width="2.3" fill="none" />
<path d="M300.0 356.4L517.3 413.7" stroke="#111" stroke-width="2.8" fill="none" />
<path d="M527.0 106.5L527.0 411.0" stroke="#111" stroke-width="2.4" fill="none" />
<path d="M516.9 109.0L516.9 409.5" stroke="#111" stroke-width="2.0" fill="none" />
<path d="M248.8 41.8L261.3 44.9L262.8 46.8L259.3 49.5Q257.8 50.3 255.3 49.6L250.3 48.1Q247.8 46.8 247.8 44.3Z" stroke="#111" stroke-width="1.4" fill="#fff" /><path d="M253.3 36.1L264.3 39.0L264.3 43.5L253.3 40.5Z" stroke="#111" stroke-width="1.0" fill="#111" /><path d="M251.8 45.5L258.3 47.3" stroke="#111" stroke-width="0.9" fill="none" />
<path d="M359.0 70.1L371.5 73.2L373.0 75.1L369.5 77.8Q368.0 78.6 365.5 77.9L360.5 76.4Q358.0 75.1 358.0 72.6Z" stroke="#111" stroke-width="1.4" fill="#fff" /><path d="M363.5 64.4L374.5 67.3L374.5 71.8L363.5 68.8Z" stroke="#111" stroke-width="1.0" fill="#111" /><path d="M362.0 73.8L368.5 75.6" stroke="#111" stroke-width="0.9" fill="none" />
<path d="M444.5 93.5L457.0 96.6L458.5 98.5L455.0 101.2Q453.5 102.0 451.0 101.3L446.0 99.8Q443.5 98.5 443.5 96.0Z" stroke="#111" stroke-width="1.4" fill="#fff" /><path d="M449.0 87.8L460.0 90.7L460.0 95.2L449.0 92.2Z" stroke="#111" stroke-width="1.0" fill="#111" /><path d="M447.5 97.2L454.0 99.0" stroke="#111" stroke-width="0.9" fill="none" />
<circle cx="283.0" cy="45.5" r="0.9" fill="#111"/>
<circle cx="427.0" cy="84.5" r="0.9" fill="#111"/>
<ellipse cx="258.5" cy="85.8" rx="16.6" ry="22.1" stroke="#111" stroke-width="2.5" fill="#fff" transform="rotate(-8 258.5 85.8)" /><ellipse cx="259.4" cy="86.0" rx="13.9" ry="19.8" stroke="#111" stroke-width="1.0" fill="none" transform="rotate(-8 259.4 86.0)" /><ellipse cx="259.1" cy="85.7" rx="11.4" ry="18.2" stroke="#111" stroke-width="1.9" fill="none" transform="rotate(-8 259.1 85.7)" /><path d="M255.0 70.0C264.5 72.5 269.5 87.5 267.0 99.5" stroke="#111" stroke-width="1.2" fill="none" /><path d="M253.0 72.5C250.5 81.5 252.5 93.5 260.5 103.0" stroke="#111" stroke-width="1.0" fill="none" /><path d="M250.5 77.5C249.5 87.5 253.5 96.5 258.5 102.5" stroke="#111" stroke-width="0.8" fill="none" /><path d="M243.5 82.5L266.0 78.0" stroke="#111" stroke-width="1.2" fill="none" /><path d="M249.5 85.0L266.5 79.2" stroke="#111" stroke-width="0.9" fill="none" /><path d="M250.5 79.0L262.5 74.5" stroke="#111" stroke-width="0.9" fill="none" /><path d="M252.5 75.0L260.5 72.0" stroke="#111" stroke-width="0.8" fill="none" /><path d="M255.0 70.5L252.5 87.5" stroke="#111" stroke-width="0.8" fill="none" /><path d="M257.0 70.0L254.5 86.5" stroke="#111" stroke-width="0.8" fill="none" />
<ellipse cx="258.5" cy="137.0" rx="16.6" ry="22.1" stroke="#111" stroke-width="2.5" fill="#fff" transform="rotate(-8 258.5 137.0)" /><ellipse cx="259.4" cy="137.2" rx="13.9" ry="19.8" stroke="#111" stroke-width="1.0" fill="none" transform="rotate(-8 259.4 137.2)" /><ellipse cx="259.1" cy="136.9" rx="11.4" ry="18.2" stroke="#111" stroke-width="1.9" fill="none" transform="rotate(-8 259.1 136.9)" /><path d="M255.0 121.2C264.5 123.7 269.5 138.7 267.0 150.7" stroke="#111" stroke-width="1.2" fill="none" /><path d="M253.0 123.7C250.5 132.7 252.5 144.7 260.5 154.2" stroke="#111" stroke-width="1.0" fill="none" /><path d="M250.5 128.7C249.5 138.7 253.5 147.7 258.5 153.7" stroke="#111" stroke-width="0.8" fill="none" /><path d="M243.5 133.7L266.0 129.2" stroke="#111" stroke-width="1.2" fill="none" /><path d="M249.5 136.2L266.5 130.4" stroke="#111" stroke-width="0.9" fill="none" /><path d="M250.5 130.2L262.5 125.7" stroke="#111" stroke-width="0.9" fill="none" /><path d="M252.5 126.2L260.5 123.2" stroke="#111" stroke-width="0.8" fill="none" /><path d="M255.0 121.7L252.5 138.7" stroke="#111" stroke-width="0.8" fill="none" /><path d="M257.0 121.2L254.5 137.7" stroke="#111" stroke-width="0.8" fill="none" />
<ellipse cx="258.5" cy="188.3" rx="16.6" ry="22.1" stroke="#111" stroke-width="2.5" fill="#fff" transform="rotate(-8 258.5 188.3)" /><ellipse cx="259.4" cy="188.5" rx="13.9" ry="19.8" stroke="#111" stroke-width="1.0" fill="none" transform="rotate(-8 259.4 188.5)" /><ellipse cx="259.1" cy="188.2" rx="11.4" ry="18.2" stroke="#111" stroke-width="1.9" fill="none" transform="rotate(-8 259.1 188.2)" /><path d="M255.0 172.5C264.5 175.0 269.5 190.0 267.0 202.0" stroke="#111" stroke-width="1.2" fill="none" /><path d="M253.0 175.0C250.5 184.0 252.5 196.0 260.5 205.5" stroke="#111" stroke-width="1.0" fill="none" /><path d="M250.5 180.0C249.5 190.0 253.5 199.0 258.5 205.0" stroke="#111" stroke-width="0.8" fill="none" /><path d="M243.5 185.0L266.0 180.5" stroke="#111" stroke-width="1.2" fill="none" /><path d="M249.5 187.5L266.5 181.7" stroke="#111" stroke-width="0.9" fill="none" /><path d="M250.5 181.5L262.5 177.0" stroke="#111" stroke-width="0.9" fill="none" /><path d="M252.5 177.5L260.5 174.5" stroke="#111" stroke-width="0.8" fill="none" /><path d="M255.0 173.0L252.5 190.0" stroke="#111" stroke-width="0.8" fill="none" /><path d="M257.0 172.5L254.5 189.0" stroke="#111" stroke-width="0.8" fill="none" />
<ellipse cx="259.2" cy="239.1" rx="16.6" ry="22.1" stroke="#111" stroke-width="2.5" fill="#fff" transform="rotate(-8 259.2 239.1)" /><ellipse cx="260.1" cy="239.3" rx="13.9" ry="19.8" stroke="#111" stroke-width="1.0" fill="none" transform="rotate(-8 260.1 239.3)" /><ellipse cx="259.8" cy="239.0" rx="11.4" ry="18.2" stroke="#111" stroke-width="1.9" fill="none" transform="rotate(-8 259.8 239.0)" /><path d="M255.7 223.3C265.2 225.8 270.2 240.8 267.7 252.8" stroke="#111" stroke-width="1.2" fill="none" /><path d="M253.7 225.8C251.2 234.8 253.2 246.8 261.2 256.3" stroke="#111" stroke-width="1.0" fill="none" /><path d="M251.2 230.8C250.2 240.8 254.2 249.8 259.2 255.8" stroke="#111" stroke-width="0.8" fill="none" /><path d="M244.2 235.8L266.7 231.3" stroke="#111" stroke-width="1.2" fill="none" /><path d="M250.2 238.3L267.2 232.5" stroke="#111" stroke-width="0.9" fill="none" /><path d="M251.2 232.3L263.2 227.8" stroke="#111" stroke-width="0.9" fill="none" /><path d="M253.2 228.3L261.2 225.3" stroke="#111" stroke-width="0.8" fill="none" /><path d="M255.7 223.8L253.2 240.8" stroke="#111" stroke-width="0.8" fill="none" /><path d="M257.7 223.3L255.2 239.8" stroke="#111" stroke-width="0.8" fill="none" />
<ellipse cx="259.5" cy="290.1" rx="16.6" ry="22.1" stroke="#111" stroke-width="2.5" fill="#fff" transform="rotate(-8 259.5 290.1)" /><ellipse cx="260.4" cy="290.3" rx="13.9" ry="19.8" stroke="#111" stroke-width="1.0" fill="none" transform="rotate(-8 260.4 290.3)" /><ellipse cx="260.1" cy="290.0" rx="11.4" ry="18.2" stroke="#111" stroke-width="1.9" fill="none" transform="rotate(-8 260.1 290.0)" /><path d="M256.0 274.3C265.5 276.8 270.5 291.8 268.0 303.8" stroke="#111" stroke-width="1.2" fill="none" /><path d="M254.0 276.8C251.5 285.8 253.5 297.8 261.5 307.3" stroke="#111" stroke-width="1.0" fill="none" /><path d="M251.5 281.8C250.5 291.8 254.5 300.8 259.5 306.8" stroke="#111" stroke-width="0.8" fill="none" /><path d="M244.5 286.8L267.0 282.3" stroke="#111" stroke-width="1.2" fill="none" /><path d="M250.5 289.3L267.5 283.5" stroke="#111" stroke-width="0.9" fill="none" /><path d="M251.5 283.3L263.5 278.8" stroke="#111" stroke-width="0.9" fill="none" /><path d="M253.5 279.3L261.5 276.3" stroke="#111" stroke-width="0.8" fill="none" /><path d="M256.0 274.8L253.5 291.8" stroke="#111" stroke-width="0.8" fill="none" /><path d="M258.0 274.3L255.5 290.8" stroke="#111" stroke-width="0.8" fill="none" />
<ellipse cx="426.3" cy="130.3" rx="16.6" ry="22.1" stroke="#111" stroke-width="2.5" fill="#fff" transform="rotate(-8 426.3 130.3)" /><ellipse cx="427.2" cy="130.5" rx="13.9" ry="19.8" stroke="#111" stroke-width="1.0" fill="none" transform="rotate(-8 427.2 130.5)" /><ellipse cx="426.9" cy="130.2" rx="11.4" ry="18.2" stroke="#111" stroke-width="1.9" fill="none" transform="rotate(-8 426.9 130.2)" /><path d="M422.8 114.5C432.3 117.0 437.3 132.0 434.8 144.0" stroke="#111" stroke-width="1.2" fill="none" /><path d="M420.8 117.0C418.3 126.0 420.3 138.0 428.3 147.5" stroke="#111" stroke-width="1.0" fill="none" /><path d="M418.3 122.0C417.3 132.0 421.3 141.0 426.3 147.0" stroke="#111" stroke-width="0.8" fill="none" /><path d="M411.3 127.0L433.8 122.5" stroke="#111" stroke-width="1.2" fill="none" /><path d="M417.3 129.5L434.3 123.7" stroke="#111" stroke-width="0.9" fill="none" /><path d="M418.3 123.5L430.3 119.0" stroke="#111" stroke-width="0.9" fill="none" /><path d="M420.3 119.5L428.3 116.5" stroke="#111" stroke-width="0.8" fill="none" /><path d="M422.8 115.0L420.3 132.0" stroke="#111" stroke-width="0.8" fill="none" /><path d="M424.8 114.5L422.3 131.0" stroke="#111" stroke-width="0.8" fill="none" />
<ellipse cx="426.3" cy="181.5" rx="16.6" ry="22.1" stroke="#111" stroke-width="2.5" fill="#fff" transform="rotate(-8 426.3 181.5)" /><ellipse cx="427.2" cy="181.7" rx="13.9" ry="19.8" stroke="#111" stroke-width="1.0" fill="none" transform="rotate(-8 427.2 181.7)" /><ellipse cx="426.9" cy="181.4" rx="11.4" ry="18.2" stroke="#111" stroke-width="1.9" fill="none" transform="rotate(-8 426.9 181.4)" /><path d="M422.8 165.7C432.3 168.2 437.3 183.2 434.8 195.2" stroke="#111" stroke-width="1.2" fill="none" /><path d="M420.8 168.2C418.3 177.2 420.3 189.2 428.3 198.7" stroke="#111" stroke-width="1.0" fill="none" /><path d="M418.3 173.2C417.3 183.2 421.3 192.2 426.3 198.2" stroke="#111" stroke-width="0.8" fill="none" /><path d="M411.3 178.2L433.8 173.7" stroke="#111" stroke-width="1.2" fill="none" /><path d="M417.3 180.7L434.3 174.9" stroke="#111" stroke-width="0.9" fill="none" /><path d="M418.3 174.7L430.3 170.2" stroke="#111" stroke-width="0.9" fill="none" /><path d="M420.3 170.7L428.3 167.7" stroke="#111" stroke-width="0.8" fill="none" /><path d="M422.8 166.2L420.3 183.2" stroke="#111" stroke-width="0.8" fill="none" /><path d="M424.8 165.7L422.3 182.2" stroke="#111" stroke-width="0.8" fill="none" />
<ellipse cx="426.3" cy="232.8" rx="16.6" ry="22.1" stroke="#111" stroke-width="2.5" fill="#fff" transform="rotate(-8 426.3 232.8)" /><ellipse cx="427.2" cy="233.0" rx="13.9" ry="19.8" stroke="#111" stroke-width="1.0" fill="none" transform="rotate(-8 427.2 233.0)" /><ellipse cx="426.9" cy="232.7" rx="11.4" ry="18.2" stroke="#111" stroke-width="1.9" fill="none" transform="rotate(-8 426.9 232.7)" /><path d="M422.8 217.0C432.3 219.5 437.3 234.5 434.8 246.5" stroke="#111" stroke-width="1.2" fill="none" /><path d="M420.8 219.5C418.3 228.5 420.3 240.5 428.3 250.0" stroke="#111" stroke-width="1.0" fill="none" /><path d="M418.3 224.5C417.3 234.5 421.3 243.5 426.3 249.5" stroke="#111" stroke-width="0.8" fill="none" /><path d="M411.3 229.5L433.8 225.0" stroke="#111" stroke-width="1.2" fill="none" /><path d="M417.3 232.0L434.3 226.2" stroke="#111" stroke-width="0.9" fill="none" /><path d="M418.3 226.0L430.3 221.5" stroke="#111" stroke-width="0.9" fill="none" /><path d="M420.3 222.0L428.3 219.0" stroke="#111" stroke-width="0.8" fill="none" /><path d="M422.8 217.5L420.3 234.5" stroke="#111" stroke-width="0.8" fill="none" /><path d="M424.8 217.0L422.3 233.5" stroke="#111" stroke-width="0.8" fill="none" />
<ellipse cx="426.3" cy="283.8" rx="16.6" ry="22.1" stroke="#111" stroke-width="2.5" fill="#fff" transform="rotate(-8 426.3 283.8)" /><ellipse cx="427.2" cy="284.0" rx="13.9" ry="19.8" stroke="#111" stroke-width="1.0" fill="none" transform="rotate(-8 427.2 284.0)" /><ellipse cx="426.9" cy="283.7" rx="11.4" ry="18.2" stroke="#111" stroke-width="1.9" fill="none" transform="rotate(-8 426.9 283.7)" /><path d="M422.8 268.0C432.3 270.5 437.3 285.5 434.8 297.5" stroke="#111" stroke-width="1.2" fill="none" /><path d="M420.8 270.5C418.3 279.5 420.3 291.5 428.3 301.0" stroke="#111" stroke-width="1.0" fill="none" /><path d="M418.3 275.5C417.3 285.5 421.3 294.5 426.3 300.5" stroke="#111" stroke-width="0.8" fill="none" /><path d="M411.3 280.5L433.8 276.0" stroke="#111" stroke-width="1.2" fill="none" /><path d="M417.3 283.0L434.3 277.2" stroke="#111" stroke-width="0.9" fill="none" /><path d="M418.3 277.0L430.3 272.5" stroke="#111" stroke-width="0.9" fill="none" /><path d="M420.3 273.0L428.3 270.0" stroke="#111" stroke-width="0.8" fill="none" /><path d="M422.8 268.5L420.3 285.5" stroke="#111" stroke-width="0.8" fill="none" /><path d="M424.8 268.0L422.3 284.5" stroke="#111" stroke-width="0.8" fill="none" />
<ellipse cx="426.0" cy="334.8" rx="16.6" ry="22.1" stroke="#111" stroke-width="2.5" fill="#fff" transform="rotate(-8 426.0 334.8)" /><ellipse cx="426.9" cy="335.0" rx="13.9" ry="19.8" stroke="#111" stroke-width="1.0" fill="none" transform="rotate(-8 426.9 335.0)" /><ellipse cx="426.6" cy="334.7" rx="11.4" ry="18.2" stroke="#111" stroke-width="1.9" fill="none" transform="rotate(-8 426.6 334.7)" /><path d="M422.5 319.0C432.0 321.5 437.0 336.5 434.5 348.5" stroke="#111" stroke-width="1.2" fill="none" /><path d="M420.5 321.5C418.0 330.5 420.0 342.5 428.0 352.0" stroke="#111" stroke-width="1.0" fill="none" /><path d="M418.0 326.5C417.0 336.5 421.0 345.5 426.0 351.5" stroke="#111" stroke-width="0.8" fill="none" /><path d="M411.0 331.5L433.5 327.0" stroke="#111" stroke-width="1.2" fill="none" /><path d="M417.0 334.0L434.0 328.2" stroke="#111" stroke-width="0.9" fill="none" /><path d="M418.0 328.0L430.0 323.5" stroke="#111" stroke-width="0.9" fill="none" /><path d="M420.0 324.0L428.0 321.0" stroke="#111" stroke-width="0.8" fill="none" /><path d="M422.5 319.5L420.0 336.5" stroke="#111" stroke-width="0.8" fill="none" /><path d="M424.5 319.0L422.0 335.5" stroke="#111" stroke-width="0.8" fill="none" />
<path d="M335.7 168.1L366.3 175.7L366.3 203.4L335.7 195.6Z" stroke="#111" stroke-width="2.2" fill="#fff" />
<path d="M336.2 168.4L336.2 195.5" stroke="#111" stroke-width="2.8" fill="none" />
<path d="M335.9 195.4L366.1 203.2" stroke="#111" stroke-width="2.6" fill="none" />
<path d="M337.5 193.0L366.0 200.6" stroke="#111" stroke-width="1.2" fill="none" />
<path d="M337.1 177.8L352.4 172.6" stroke="#111" stroke-width="2.2" fill="none" />
<path d="M337.0 172.2L346.0 170.6" stroke="#111" stroke-width="1.3" fill="none" />
<path d="M337 181.6C350 179.6 358 180 366 180.8" stroke="#111" stroke-width="1.4" fill="none" />
<path d="M337 189.4C348 186.2 358 185.8 366 185.8" stroke="#111" stroke-width="1.4" fill="none" />
<path d="M365.0 189.6L365.0 193.2" stroke="#111" stroke-width="2.0" fill="none" />
<circle cx="392.6" cy="105.1" r="1.6" fill="#111"/>
<circle cx="369.8" cy="129.4" r="1.6" fill="#111"/>
<circle cx="369.8" cy="145.6" r="1.6" fill="#111"/>
<circle cx="339.2" cy="163.8" r="1.6" fill="#111"/>
<circle cx="362.3" cy="169.5" r="1.6" fill="#111"/>
<circle cx="335.7" cy="200.9" r="1.6" fill="#111"/>
<circle cx="366.0" cy="208.9" r="1.6" fill="#111"/>
<circle cx="514.0" cy="137.0" r="1.6" fill="#111"/>
<circle cx="521.5" cy="167.0" r="1.6" fill="#111"/>
<circle cx="513.5" cy="264.5" r="1.6" fill="#111"/>
<circle cx="380.0" cy="332.0" r="1.6" fill="#111"/>
<circle cx="392.5" cy="340.0" r="1.6" fill="#111"/>
<circle cx="361.0" cy="357.5" r="1.6" fill="#111"/>
<circle cx="520.5" cy="351.0" r="1.6" fill="#111"/>
<circle cx="512.5" cy="371.5" r="1.6" fill="#111"/>
<circle cx="393.0" cy="233.0" r="1.6" fill="#111"/>
<ellipse cx="510.2" cy="397.3" rx="1.6" ry="2.1" stroke="#111" stroke-width="1.5" fill="none" />
<path d="M221.0 145.5L297.5 123.8" stroke="#111" stroke-width="1.0" fill="none" />
<path d="M306.0 121.2L312.5 119.5" stroke="#111" stroke-width="1.2" fill="none" />
<circle cx="316.2" cy="118.3" r="1.8" fill="#111"/>
<circle cx="317.0" cy="213.0" r="1.8" fill="#111"/>
<path d="M317.0 213.0L281.0 222.7" stroke="#111" stroke-width="1.0" fill="none" />
<path d="M241.5 233.5L225.0 238.0" stroke="#111" stroke-width="1.0" fill="none" />
<path d="M220.0 239.2L209.0 242.0" stroke="#111" stroke-width="1.0" fill="none" />
<circle cx="223.8" cy="231.2" r="1.8" fill="#111"/>
<path d="M223.8 231.2L207.5 235.8" stroke="#111" stroke-width="1.0" fill="none" />
<path d="M58.8 82.5L102.7 70.6L192.0 94.6L192.0 104.0L146.0 106.0L75.0 87.0Z" stroke="#111" stroke-width="1.3" fill="#fff" />
<path d="M74.9 86.7L146.0 106.3" stroke="#111" stroke-width="1.3" fill="none" />
<path d="M8.8 104.4L75.2 86.4" stroke="#111" stroke-width="4.4" fill="none" stroke-linecap="butt"/>
<path d="M12.0 106.6L79.0 89.2" stroke="#111" stroke-width="1.0" fill="none" />
<path d="M44.0 93.5L44.0 82.8L46.5 81.6L52.5 81.6L52.5 91.2Z" stroke="#111" stroke-width="1.3" fill="#fff" />
<path d="M52.5 91.2L52.5 82.6L58.8 82.6L58.8 89.5Z" stroke="#111" stroke-width="1.2" fill="#fff" />
<path d="M50.0 82.6L50.0 91.8" stroke="#111" stroke-width="1.0" fill="none" />
<path d="M56.6 83.0L56.6 90.0" stroke="#111" stroke-width="0.9" fill="none" />
<path d="M12.8 106.0L79.1 88.9L146.0 106.3L69.0 119.5L62.0 118.2Z" stroke="#111" stroke-width="1.0" fill="#fff" />
<path d="M7.0 106.0L61.0 121.0L69.5 121.0L146.0 104.0L146.0 327.0L133.9 323.5L133.9 374.4L72.0 390.0L60.0 390.4L6.4 374.8Z" stroke="#111" stroke-width="0.01" fill="#fff" />
<path d="M7.5 105.3L58 119.8Q65 122 72 119.9L146 103.0" stroke="#111" stroke-width="1.9" fill="none" />
<path d="M13.9 106.2L60 118.0Q65 119.5 70 118.0L146 100.6" stroke="#111" stroke-width="1.3" fill="none" />
<path d="M5.6 115.2L58 129.4Q65.5 131.2 73 128.8L146 110.6" stroke="#111" stroke-width="1.2" fill="none" />
<path d="M5.6 118.2L58 132.0Q65.5 134.0 73 131.2L146 112.7" stroke="#111" stroke-width="2.7" fill="none" />
<path d="M8.5 105Q5.6 106 6.3 109.5L6.3 118" stroke="#111" stroke-width="1.7" fill="none" />
<path d="M9.8 107.5L9.8 119.0" stroke="#111" stroke-width="1.3" fill="none" />
<path d="M61.0 121.0L61.0 132.0" stroke="#111" stroke-width="1.5" fill="none" />
<path d="M69.8 121.0L69.8 132.0" stroke="#111" stroke-width="1.5" fill="none" />
<ellipse cx="79.8" cy="123.5" rx="1.6" ry="2.0" stroke="#111" stroke-width="1.3" fill="#777" />
<path d="M7.2 118.5L6.3 374.0" stroke="#111" stroke-width="1.8" fill="none" />
<path d="M10.6 119.5L10.0 362.5" stroke="#111" stroke-width="1.5" fill="none" />
<path d="M61.3 133.5L61.7 379.0" stroke="#111" stroke-width="1.9" fill="none" />
<path d="M69.6 133.5L70.5 378.0" stroke="#111" stroke-width="1.9" fill="none" />
<path d="M5 362L58.5 378.8Q66 381.1 73 377.9L133.5 362" stroke="#111" stroke-width="3.0" fill="none" />
<path d="M6.6 374.6L58.5 389.8Q66 392 74 389.4L133.5 374.4" stroke="#111" stroke-width="2.2" fill="none" />
<path d="M5 361.6Q3.6 364 5.4 366L6.3 374.2" stroke="#111" stroke-width="1.3" fill="none" />
<path d="M61.4 380.0L61.4 390.4" stroke="#111" stroke-width="1.1" fill="none" />
<path d="M70.3 379.0L70.3 390.2" stroke="#111" stroke-width="1.1" fill="none" />
<ellipse cx="80.0" cy="381.7" rx="1.6" ry="2.0" stroke="#111" stroke-width="1.3" fill="#777" />
<path d="M152.8 108.0L190.5 98.0L190.5 340.0L152.8 330.0Z" stroke="#111" stroke-width="1.0" fill="#fff" />
<path d="M146.0 103.0L190.6 93.7L190.6 103.7L152.7 113.6L146.0 114.6Z" stroke="#111" stroke-width="1.0" fill="#fff" />
<path d="M146.0 103.0L190.6 93.5" stroke="#111" stroke-width="1.3" fill="none" />
<path d="M150.0 107.2L190.6 96.6" stroke="#111" stroke-width="2.0" fill="none" />
<path d="M152.7 113.8L190.6 103.9" stroke="#111" stroke-width="1.4" fill="none" />
<circle cx="156.9" cy="107.9" r="2.0" fill="#111"/>
<circle cx="179.3" cy="102.3" r="2.0" fill="#111"/>
<path d="M190.6 93.5L223.7 83.6" stroke="#111" stroke-width="0.9" fill="none" />
<circle cx="223.9" cy="83.4" r="1.5" fill="#111"/>
<path d="M145.6 106.5L152.8 108.5L152.8 330.0L145.6 327.0Z" stroke="#111" stroke-width="1.0" fill="#fff" />
<path d="M116.5 122L131.5 118.5L131.5 130.4L117 134.4Q113.4 135 113.2 131.5L113.2 125.5Q113.4 122.6 116.5 122Z" stroke="#111" stroke-width="1.7" fill="#fff" />
<path d="M133.3 118.5L154.1 125.0L154.1 135.1L133.3 128.6Z" stroke="#111" stroke-width="1.7" fill="#fff" />
<path d="M131.5 118.5L133.3 118.5" stroke="#111" stroke-width="1.3" fill="none" />
<path d="M131.5 130.4L133.3 128.6" stroke="#111" stroke-width="1.3" fill="none" />
<ellipse cx="116.9" cy="128.2" rx="1.5" ry="1.9" stroke="#111" stroke-width="1.0" fill="#111" />
<ellipse cx="125.0" cy="125.8" rx="1.5" ry="1.9" stroke="#111" stroke-width="1.0" fill="#111" />
<ellipse cx="148.2" cy="128.0" rx="1.7" ry="2.2" stroke="#111" stroke-width="1.0" fill="#111" />
<path d="M132.2 117.6L132.2 122.0" stroke="#111" stroke-width="1.3" fill="none" />
<ellipse cx="132.2" cy="124.4" rx="2.0" ry="2.3" stroke="#111" stroke-width="1.4" fill="#fff" />
<path d="M145.4 106.5L145.4 121.5" stroke="#111" stroke-width="1.9" fill="none" />
<path d="M145.4 132.6L145.4 327.0" stroke="#111" stroke-width="1.9" fill="none" />
<path d="M152.0 108.5L152.0 124.0" stroke="#111" stroke-width="1.9" fill="none" />
<path d="M152.0 135.0L152.0 330.0" stroke="#111" stroke-width="1.9" fill="none" />
<ellipse cx="161.6" cy="122.2" rx="5.6" ry="8.0" stroke="#111" stroke-width="2.3" fill="#fff" transform="rotate(-15 161.6 122.2)" />
<ellipse cx="163.9" cy="121.9" rx="4.6" ry="6.6" stroke="#111" stroke-width="1.6" fill="#fff" transform="rotate(-15 163.9 121.9)" />
<path d="M168.2 118.6L174.6 118.5Q176.8 119.6 176.6 122L176.2 124.8Q174.6 126 172.6 125.4L168.6 124.6" stroke="#111" stroke-width="1.9" fill="#fff" />
<ellipse cx="166.5" cy="121.4" rx="3.3" ry="4.8" stroke="#111" stroke-width="1.9" fill="#fff" transform="rotate(-15 166.5 121.4)" />
<path d="M172.4 121.2L172.6 125.2" stroke="#111" stroke-width="1.2" fill="none" />
<ellipse cx="172.3" cy="234.4" rx="7.6" ry="11.2" stroke="#111" stroke-width="1.3" fill="none" transform="rotate(-10 172.3 234.4)" />
<path d="M190.6 94.1L207.7 99.5L207.7 369.0L190.6 364.0Z" stroke="#111" stroke-width="1.2" fill="#fff" />
<path d="M191.1 94.3L191.1 340.0" stroke="#111" stroke-width="2.3" fill="none" />
<path d="M207.2 99.5L207.2 369.0" stroke="#111" stroke-width="2.1" fill="none" />
<circle cx="203.8" cy="243.3" r="1.9" fill="#111"/>
<path d="M203.8 243.3L193.8 246.2" stroke="#111" stroke-width="1.0" fill="none" />
<circle cx="183.9" cy="129.3" r="1.2" fill="#111"/>
<ellipse cx="183.1" cy="137.3" rx="4.3" ry="5.0" stroke="#111" stroke-width="2.0" fill="#fff" transform="rotate(-12 183.1 137.3)" />
<ellipse cx="183.4" cy="137.0" rx="2.2" ry="2.9" stroke="#111" stroke-width="0.9" fill="none" transform="rotate(-12 183.4 137.0)" />
<path d="M183.5 137.6L209.0 143.9" stroke="#111" stroke-width="3.0" fill="none" />
<path d="M183.5 137.6L209.0 143.9"  stroke-width="1.0" fill="none" stroke="#fff"/>
<ellipse cx="216.9" cy="139.6" rx="3.9" ry="6.0" stroke="#111" stroke-width="2.6" fill="#fff" transform="rotate(-8 216.9 139.6)" />
<ellipse cx="217.0" cy="138.8" rx="1.3" ry="3.0" stroke="#111" stroke-width="1.1" fill="none" transform="rotate(-8 217.0 138.8)" />
<path d="M208.3 142.2L212.9 143.2L212.9 147.6L208.3 146.4Z" stroke="#111" stroke-width="1.2" fill="#fff" />
<path d="M212.9 143.4L220.3 145.2L220.6 151.8L213.4 150.2Z" stroke="#111" stroke-width="1.6" fill="#333" />
<path d="M220.3 145.6L228.6 147.6L229.4 151.2L220.6 151.0Z" stroke="#111" stroke-width="1.5" fill="#fff" />
<path d="M224.5 147.6L225.0 150.6" stroke="#111" stroke-width="1.0" fill="none" />
<path d="M229.2 149.6L235.0 151.6" stroke="#111" stroke-width="3.2" fill="none" />
<path d="M194.6 151.8L202.0 149.3" stroke="#111" stroke-width="1.1" fill="none" />
<circle cx="203.4" cy="148.9" r="1.8" fill="#111"/>
<path d="M133.9 323.5L152.0 328.9L153.2 378.0L133.9 372.7Z" stroke="#111" stroke-width="1.2" fill="#fff" />
<path d="M152.2 329.0L153.4 378.0" stroke="#111" stroke-width="2.0" fill="none" />
<circle cx="147.8" cy="348.1" r="1.9" fill="#111"/>
<path d="M154.2 364.2L190.6 354.5L190.6 364.2L154.2 373.8Z" stroke="#111" stroke-width="1.2" fill="#fff" />
<path d="M154.2 373.8L190.6 364.2" stroke="#111" stroke-width="1.8" fill="none" />
<ellipse cx="157.4" cy="368.9" rx="1.5" ry="1.9" stroke="#111" stroke-width="1.0" fill="#111" />
<ellipse cx="179.9" cy="363.1" rx="1.5" ry="1.9" stroke="#111" stroke-width="1.0" fill="#111" />
<path d="M192.7 340.6L208.8 338.5L208.8 368.4L192.7 362.0Z" stroke="#111" stroke-width="1.2" fill="#fff" />
<path d="M190.8 339.6L190.8 364.2" stroke="#111" stroke-width="1.6" fill="none" />
<path d="M192.9 340.0L192.9 362.0" stroke="#111" stroke-width="1.0" fill="none" />
<path d="M208.8 338.5L208.8 368.4" stroke="#111" stroke-width="1.8" fill="none" />
<ellipse cx="203.4" cy="356.0" rx="1.5" ry="1.9" stroke="#111" stroke-width="1.0" fill="#111" />
<path d="M101.6 264.8L166.7 283.3L166 331L153.3 330L90 313.4C78 305 78 270 101.6 264.8Z" stroke="#111" stroke-width="0.01" fill="#fff" />
<path d="M101.6 264.8C88 266 80.5 277 80.3 287.5C80 299 84 309 90 313.4" stroke="#111" stroke-width="2.4" fill="none" />
<path d="M103.5 266.2C91 268.5 83.6 278.5 83.4 288C83.2 298 86.5 307.5 92.5 313.6" stroke="#111" stroke-width="1.0" fill="none" />
<path d="M101.6 264.8L166.7 283.3" stroke="#111" stroke-width="1.5" fill="none" />
<path d="M90.0 313.4L153.3 330.2" stroke="#111" stroke-width="1.5" fill="none" />
<path d="M148.8 281.8L167.0 279.5L176.4 277.6L180.2 279.5L178.3 283.3L168.8 284.3L151.7 285.6Z" stroke="#111" stroke-width="1.4" fill="#fff" />
<path d="M167.8 280.5L169.6 284.2" stroke="#111" stroke-width="1.0" fill="none" />
<path d="M165 286.2C156 290 152 301 152.2 311C152.4 324 157 333 167.8 338.4L191.6 335.6L202 291.9Z" stroke="#111" stroke-width="0.01" fill="#fff" />
<path d="M165 286.2C157.5 290.5 152.2 300 152.2 311C152.2 323 157 333.5 167.8 338.4" stroke="#111" stroke-width="2.7" fill="none" />
<path d="M168 288.6C160.5 292.5 155.6 301 155.6 311C155.6 322 160 331.5 169.5 336.2" stroke="#111" stroke-width="1.2" fill="none" />
<path d="M169.7 289L185.9 298.5L184 305" stroke="#111" stroke-width="1.2" fill="none" />
<path d="M172.5 289.6L188 297.6" stroke="#111" stroke-width="0.9" fill="none" />
<path d="M156.5 322C160 329.5 166 333.4 172 332.6C177 332 181.5 329 184.5 324.5" stroke="#111" stroke-width="1.1" fill="none" />
<path d="M158.5 318C162 326 168 330 174 329" stroke="#111" stroke-width="0.9" fill="none" />
<path d="M159.5 314.5L154.8 326.5" stroke="#111" stroke-width="1.0" fill="none" />
<path d="M162.0 315.5L157.5 330.5" stroke="#111" stroke-width="1.0" fill="none" />
<path d="M165.0 285.4L202.0 291.2L202.0 294.0L195.4 295.6L169.7 290.0Z" stroke="#111" stroke-width="1.0" fill="#333" />
<path d="M165.0 286.0L202.0 291.7" stroke="#111" stroke-width="2.0" fill="none" />
<path d="M169.7 289.4L195.4 295.0" stroke="#111" stroke-width="1.6" fill="none" />
<path d="M176.0 288.6L190.0 291.6" stroke="#111" stroke-width="0.8" fill="none" stroke="#fff"/>
<path d="M167.8 336.4L169.7 334.4L190.6 332.5L191.6 336.0L170.0 338.6Z" stroke="#111" stroke-width="1.2" fill="#333" />
<path d="M172.0 335.6L189.0 334.0" stroke="#111" stroke-width="0.7" fill="none" stroke="#fff"/>
<path d="M159.3 303.3L164.0 301.4L168.8 302.7L168.8 312.8L164.0 315.6L159.3 313.7Z" stroke="#111" stroke-width="1.6" fill="#fff" />
<path d="M164.0 301.6L164.0 315.4" stroke="#111" stroke-width="1.1" fill="none" />
<path d="M159.4 308.4L164.0 306.6" stroke="#111" stroke-width="0.9" fill="none" />
<path d="M164.0 306.6L168.8 307.6" stroke="#111" stroke-width="0.9" fill="none" />
<path d="M168.8 304.2L179.2 306.2L179.2 314.9L168.8 312.9Z" stroke="#111" stroke-width="1.2" fill="#444" />
<path d="M170.4 305.0L170.4 313.0" stroke="#111" stroke-width="0.7" fill="none" stroke="#fff"/>
<path d="M172.3 305.4L172.3 313.4" stroke="#111" stroke-width="0.7" fill="none" stroke="#fff"/>
<path d="M174.2 305.7L174.2 313.7" stroke="#111" stroke-width="0.7" fill="none" stroke="#fff"/>
<path d="M176.1 306.1L176.1 314.1" stroke="#111" stroke-width="0.7" fill="none" stroke="#fff"/>
<path d="M178.0 306.4L178.0 314.4" stroke="#111" stroke-width="0.7" fill="none" stroke="#fff"/>
<path d="M179.2 307.5L183.0 308.2L183.0 315.0L179.2 314.2Z" stroke="#111" stroke-width="1.1" fill="#fff" />
<path d="M186.4 303.2L181.6 313L186.4 325.4" stroke="#111" stroke-width="3.8" fill="none" />
<path d="M186.4 303.2L181.6 313L186.4 325.4"  stroke-width="1.2" fill="none" stroke="#fff"/>
<path d="M197.3 291.9L203.0 295.7L206.8 309.0L205.8 317.5L203.9 328.9L201.1 337.5L191.6 335.6L190.2 325.1L187.8 312.8L191.6 300.4Z" stroke="#111" stroke-width="2.0" fill="#fff" />
<path d="M197.6 294.4L201.4 297L204.8 309.2L202 328.4L199.8 335L193.4 333.6L192.2 324.8L190 312.8L193.4 301.6Z" stroke="#111" stroke-width="0.9" fill="none" />
<ellipse cx="198.6" cy="296.6" rx="1.4" ry="1.7" stroke="#111" stroke-width="1.2" fill="none" />
<ellipse cx="199.2" cy="335.2" rx="1.4" ry="1.7" stroke="#111" stroke-width="1.2" fill="none" />
<ellipse cx="197.3" cy="314.7" rx="6.2" ry="8.7" stroke="#111" stroke-width="1.8" fill="#fff" transform="rotate(-4 197.3 314.7)" />
<ellipse cx="198.2" cy="314.9" rx="4.4" ry="7.0" stroke="#111" stroke-width="1.1" fill="none" transform="rotate(-4 198.2 314.9)" />
<path d="M195 309C197.5 307.6 200.4 308.6 202 311" stroke="#111" stroke-width="0.8" fill="none" />
<path d="M194.2 313C197 311 200.8 312 202.6 315" stroke="#111" stroke-width="0.8" fill="none" />
<path d="M194.4 317.5C197 315.5 200.4 316.5 202.2 319" stroke="#111" stroke-width="0.8" fill="none" />
<path d="M195.4 321.5C197.4 320 200 320.6 201.4 322.4" stroke="#111" stroke-width="0.8" fill="none" />
<path d="M208.3 318.7L224.4 323.5" stroke="#111" stroke-width="1.7" fill="none" />
<path d="M208.3 325.4L221.6 329.2" stroke="#111" stroke-width="1.7" fill="none" />
<path d="M209.0 328.6L218.0 331.4" stroke="#111" stroke-width="1.2" fill="none" />
<path d="M217.8 331.5L217.8 339.6" stroke="#111" stroke-width="1.3" fill="none" />
<path d="M217.8 339.6L224.4 341.6" stroke="#111" stroke-width="1.2" fill="none" />
<path d="M221.6 329.2L224.4 330.2" stroke="#111" stroke-width="1.2" fill="none" />
<path d="M208.3 353.9L224.4 350.0" stroke="#111" stroke-width="1.3" fill="none" />
<path d="M236 356.5C240 362.5 258 366 270 364.5" stroke="#111" stroke-width="1.1" fill="none" />
<path d="M267.8 292.8L263.3 279.4L271.7 284.7L288.3 286.5L302.0 280.3L302.0 316.8L288.8 321.5L267.8 328.4Z" stroke="#111" stroke-width="0.01" fill="#fff" />
<path d="M267.8 292.8L288.8 287.2" stroke="#111" stroke-width="1.2" fill="none" />
<path d="M288.8 287.2L302.0 281.2" stroke="#111" stroke-width="1.0" fill="none" />
<path d="M267.8 328.4L288.8 321.5" stroke="#111" stroke-width="1.0" fill="none" />
<path d="M288.8 286.5L288.8 321.5" stroke="#111" stroke-width="1.3" fill="none" />
<path d="M302.0 275.0L302.0 316.8" stroke="#111" stroke-width="1.7" fill="none" />
<path d="M271.7 293.0L271.7 326.5" stroke="#111" stroke-width="1.0" fill="none" />
<path d="M264.2 274.9L271.7 271.4L294.5 273.1L302.0 274.9L302.0 280.3L288.3 286.5L271.7 284.7L264.6 281.2Z" stroke="#111" stroke-width="1.4" fill="#fff" />
<path d="M264.2 274.9L271.7 278.0L288.3 280.0L295.4 277.2L302 274.9" stroke="#111" stroke-width="1.1" fill="none" />
<path d="M271.7 278.0L271.7 284.7" stroke="#111" stroke-width="1.1" fill="none" />
<path d="M288.3 280.0L288.3 286.5" stroke="#111" stroke-width="1.2" fill="none" />
<path d="M295.4 277.2L295.4 283.2" stroke="#111" stroke-width="1.0" fill="none" />
<path d="M270.5 267.3L270.5 273.4C272 277.0 286.8 277.0 288.3 273.4L288.3 267.3Z" stroke="#111" stroke-width="1.4" fill="#fff" />
<ellipse cx="279.4" cy="267.3" rx="8.9" ry="3.1" stroke="#111" stroke-width="1.5" fill="#fff" />
<ellipse cx="279.4" cy="267.1" rx="6.0" ry="1.9" stroke="#111" stroke-width="1.0" fill="none" />
<path d="M234.3 286.5L263.3 279.4L267.8 292.8L267.8 328.4L277.0 332.7L277.0 368.3L224.3 352.6L224.3 317.0L225.7 315.6L234.3 315.6Z" stroke="#111" stroke-width="1.3" fill="#fff" />
<path d="M234.3 286.5L263.3 279.4L266.5 284.0L267.8 292.8Z" stroke="#111" stroke-width="1.2" fill="#fff" />
<path d="M234.3 286.5L267.8 292.8" stroke="#111" stroke-width="1.7" fill="none" />
<path d="M268.0 292.8L268.0 328.4" stroke="#111" stroke-width="2.4" fill="none" />
<path d="M234.3 286.5L234.3 315.6" stroke="#111" stroke-width="1.6" fill="none" />
<path d="M224.3 317.0L224.3 352.6" stroke="#111" stroke-width="1.6" fill="none" />
<path d="M225.7 315.6L225.7 318.5L233.5 320.4L233.5 316" stroke="#111" stroke-width="0.9" fill="none" />
<path d="M267.8 328.4L277.0 332.7L319.7 321.3L308.4 317.0L302.0 316.8L288.8 321.5Z" stroke="#111" stroke-width="1.3" fill="#fff" />
<path d="M268.5 327.6L302.0 316.6" stroke="#111" stroke-width="2.4" fill="none" />
<path d="M277.0 332.7L319.7 321.3L319.7 357.0L277.0 368.3Z" stroke="#111" stroke-width="1.3" fill="#fff" />
<path d="M277.0 332.7L319.7 321.3" stroke="#111" stroke-width="1.6" fill="none" />
<path d="M277.0 332.7L277.0 368.3" stroke="#111" stroke-width="1.9" fill="none" />
<path d="M319.7 321.3L319.7 357.0" stroke="#111" stroke-width="1.7" fill="none" />
<path d="M277.0 368.3L319.7 357.0" stroke="#111" stroke-width="1.7" fill="none" />
<path d="M224.3 352.6L277.0 368.3" stroke="#111" stroke-width="1.8" fill="none" />
<path d="M287.0 330.2L287.0 365.6" stroke="#111" stroke-width="1.1" fill="none" />
<path d="M291.2 329.2L291.2 364.6" stroke="#111" stroke-width="1.1" fill="none" />
<ellipse cx="301.4" cy="342.7" rx="6.3" ry="9.2" stroke="#111" stroke-width="1.3" fill="none" transform="rotate(-4 301.4 342.7)" />
<path d="M23.5 63L23.5 70.7L42.8 83.5" stroke="#111" stroke-width="1.3" fill="none" />
<path d="M44.0 80.8L46.8 87.8L41.2 87.8Z" fill="#111" stroke="#111" stroke-width="0.6"/>
<path d="M44.0 82.0L44.0 93.0" stroke="#111" stroke-width="1.8" fill="none" />
<ellipse cx="24.5" cy="49.0" rx="18.3" ry="14.8" stroke="#111" stroke-width="1.3" fill="#f2f3f5" /><text x="25" y="56.3" font-size="20" text-anchor="middle">121</text>
<path d="M181.0 33.2L196.6 108.0" stroke="#111" stroke-width="1.2" fill="none" />
<path d="M197.2 111.4L192.2 102.2L198.1 101.0Z" fill="#111" stroke="#111" stroke-width="0.6"/>
<ellipse cx="165.5" cy="20.2" rx="25.9" ry="16.2" stroke="#111" stroke-width="1.3" fill="#f2f3f5" /><text x="165" y="24.4" font-size="20" text-anchor="middle">122</text>
<ellipse cx="107.2" cy="228.6" rx="19.8" ry="14.3" stroke="#111" stroke-width="1.3" fill="#f2f3f5" /><text x="108.3" y="235.0" font-size="20" text-anchor="middle">123</text>
<ellipse cx="363.2" cy="256.8" rx="26.1" ry="18.2" stroke="#111" stroke-width="1.3" fill="#f2f3f5" /><text x="362.7" y="262.0" font-size="20" text-anchor="middle">130</text>
<path d="M123.5 402.8L137.4 402.8L161.5 315" stroke="#111" stroke-width="1.3" fill="none" />
<ellipse cx="103.4" cy="403.5" rx="20.0" ry="13.6" stroke="#111" stroke-width="1.3" fill="#f2f3f5" /><text x="104.6" y="410.4" font-size="20" text-anchor="middle">126</text>
<path d="M181.9 409.2L166.4 409.2L186.4 321.5" stroke="#111" stroke-width="1.3" fill="none" />
<ellipse cx="200.6" cy="405.6" rx="18.8" ry="13.4" stroke="#111" stroke-width="1.3" fill="#f2f3f5" /><text x="201.6" y="413.4" font-size="20" text-anchor="middle">127</text>
<path d="M274 403.7L262 403.7L270.4 375" stroke="#111" stroke-width="1.3" fill="none" />
<path d="M272.3 366.8L272.1 380.1L266.2 378.7Z" fill="#111" stroke="#111" stroke-width="0.6"/>
<text x="276.5" y="411.4" font-size="20">Gas Valve</text>
</svg>
</body></html>
